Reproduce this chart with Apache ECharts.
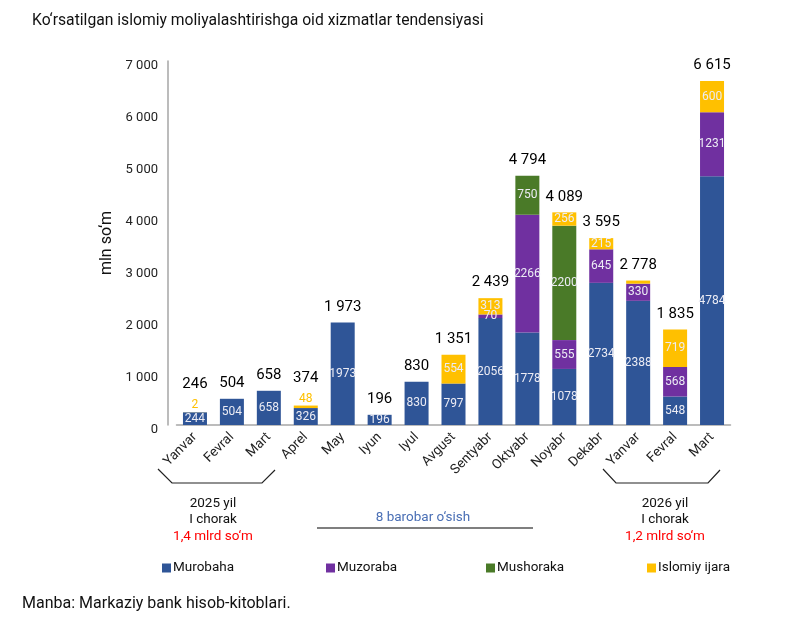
<!DOCTYPE html>
<html lang="uz">
<head>
<meta charset="UTF-8">
<title>Islomiy moliyalashtirish tendensiyasi</title>
<script src="https://cdn.jsdelivr.net/npm/echarts@6/dist/echarts.min.js"></script>
<style>
  html, body { margin: 0; padding: 0; background: #fff; }
  #chart { width: 803px; height: 624px; }
</style>
</head>
<body>
<div id="chart"></div>
<script>
// oylar (2025 yil yanvar - 2026 yil mart)
var months = ['Yanvar', 'Fevral', 'Mart', 'Aprel', 'May', 'Iyun', 'Iyul', 'Avgust', 'Sentyabr', 'Oktyabr', 'Noyabr', 'Dekabr', 'Yanvar', 'Fevral', 'Mart'];
var murobaha  = [244, 504, 658, 326, 1973, 196, 830, 797, 2056, 1778, 1078, 2734, 2388, 548, 4784];
var muzoraba  = [0, 0, 0, 0, 0, 0, 0, 0, 70, 2266, 555, 645, 330, 568, 1231];
var mushoraka = [0, 0, 0, 0, 0, 0, 0, 0, 0, 750, 2200, 0, 0, 0, 0];
var ijara     = [2, 0, 0, 48, 0, 0, 0, 554, 313, 0, 256, 215, 60, 719, 600];
var totals    = [246, 504, 658, 374, 1973, 196, 830, 1351, 2439, 4794, 4089, 3595, 2778, 1835, 6615];
var yTicks    = [0, 1000, 2000, 3000, 4000, 5000, 6000, 7000];
var seriesNames = ['Murobaha', 'Muzoraba', 'Mushoraka', 'Islomiy ijara'];

// kichik ijara yorliqlari: ustida ko'rsatiladi yoki yashiriladi
var ijaraAbove = [0, 3];
var ijaraHidden = [12];

var FONT = 'Roboto, "Noto Sans", sans-serif';
var colors = ['#2F5597', '#7030A0', '#4A7A28', '#FFC000'];
var legendLeft = [157, 321, 481, 642];

function fmt(v) {
  return String(v).replace(/\B(?=(\d{3})+(?!\d))/g, ' ');
}

var inLabel = {
  show: true,
  position: 'inside',
  color: '#ececf4',
  fontSize: 12,
  fontFamily: FONT,
  formatter: function (p) { return p.value ? String(p.value) : ''; }
};

function segment(name, values, color) {
  return {
    name: name,
    type: 'bar',
    stack: 'jami',
    barWidth: 24,
    itemStyle: { color: color },
    label: inLabel,
    data: values
  };
}

var ijaraData = ijara.map(function (v, i) {
  if (ijaraAbove.indexOf(i) >= 0) {
    return { value: v, label: { show: true, position: 'top', distance: 1, color: '#FFC000', fontSize: 12 } };
  }
  if (ijaraHidden.indexOf(i) >= 0) {
    return { value: v, label: { show: false } };
  }
  return v;
});

var totalData = totals.map(function (v, i) {
  return { value: v, label: { distance: ijaraAbove.indexOf(i) >= 0 ? 20 : 8 } };
});

var legends = seriesNames.map(function (n, i) {
  return {
    data: [n],
    left: legendLeft[i], top: 556,
    icon: 'rect', itemWidth: 9, itemHeight: 9,
    textStyle: { fontSize: 13.5, color: '#111', padding: [0, 0, 0, -3] }
  };
});

var chart = echarts.init(document.getElementById('chart'));
var option = {
  animation: false,
  textStyle: { fontFamily: FONT },
  title: {
    text: 'Ko‘rsatilgan islomiy moliyalashtirishga oid xizmatlar tendensiyasi',
    left: 27, top: 8,
    textStyle: { fontSize: 15.7, fontWeight: 'normal', color: '#111', fontFamily: FONT }
  },
  grid: { left: 176.5, right: 72.5, top: 61, bottom: 199 },
  legend: legends,
  xAxis: {
    type: 'category',
    data: months,
    offset: 4,
    axisLine: { lineStyle: { color: '#a6a6a6', width: 1.5 } },
    axisTick: { show: false },
    axisLabel: { rotate: 45, interval: 0, fontSize: 13.5, color: '#222', margin: 6 }
  },
  yAxis: {
    type: 'value',
    min: 0, max: 7000, interval: 1000,
    offset: 8.5,
    name: 'mln so‘m',
    nameLocation: 'middle',
    nameGap: 50,
    nameTextStyle: { fontSize: 16, color: '#111' },
    splitLine: { show: false },
    axisLine: { show: true, lineStyle: { color: '#a6a6a6', width: 1.5 } },
    axisTick: { show: false },
    axisLabel: {
      fontSize: 13, color: '#222', margin: 10,
      verticalAlign: 'top', lineHeight: 9,
      formatter: function (v) { return yTicks.indexOf(v) >= 0 ? fmt(v) : ''; }
    }
  },
  series: [
    segment(seriesNames[0], murobaha, colors[0]),
    segment(seriesNames[1], muzoraba, colors[1]),
    segment(seriesNames[2], mushoraka, colors[2]),
    segment(seriesNames[3], ijaraData, colors[3]),
    {
      name: 'Jami',
      type: 'line',
      data: totalData,
      symbol: 'circle',
      symbolSize: 0,
      lineStyle: { width: 0, opacity: 0 },
      itemStyle: { color: 'transparent' },
      label: {
        show: true, position: 'top', color: '#000', fontSize: 15,
        formatter: function (p) { return fmt(p.value); }
      },
      z: 5
    }
  ],
  graphic: [
    // chorak qavslari
    { type: 'polyline', shape: { points: [[158, 469], [172, 483], [262, 483], [275, 470]] }, style: { stroke: '#222', lineWidth: 1.2, fill: null } },
    { type: 'polyline', shape: { points: [[603, 469], [616, 483], [708, 483], [720, 470]] }, style: { stroke: '#222', lineWidth: 1.2, fill: null } },
    { type: 'line', shape: { x1: 317, y1: 528, x2: 533, y2: 528 }, style: { stroke: '#555', lineWidth: 1.5 } },
    { type: 'text', x: 213, y: 504, style: { text: '2025 yil', fontSize: 13.5, fill: '#111', align: 'center', verticalAlign: 'middle', fontFamily: FONT } },
    { type: 'text', x: 213, y: 520, style: { text: 'I chorak', fontSize: 13.5, fill: '#111', align: 'center', verticalAlign: 'middle', fontFamily: FONT } },
    { type: 'text', x: 213, y: 537, style: { text: '1,4 mlrd so‘m', fontSize: 13.5, fill: '#ff0000', align: 'center', verticalAlign: 'middle', fontFamily: FONT } },
    { type: 'text', x: 665, y: 504, style: { text: '2026 yil', fontSize: 13.5, fill: '#111', align: 'center', verticalAlign: 'middle', fontFamily: FONT } },
    { type: 'text', x: 665, y: 520, style: { text: 'I chorak', fontSize: 13.5, fill: '#111', align: 'center', verticalAlign: 'middle', fontFamily: FONT } },
    { type: 'text', x: 665, y: 537, style: { text: '1,2 mlrd so‘m', fontSize: 13.5, fill: '#ff0000', align: 'center', verticalAlign: 'middle', fontFamily: FONT } },
    { type: 'text', x: 423, y: 518, style: { text: '8 barobar o‘sish', fontSize: 13.5, fill: '#4a6fb5', align: 'center', verticalAlign: 'middle', fontFamily: FONT } },
    { type: 'text', x: 22, y: 604, style: { text: 'Manba: Markaziy bank hisob-kitoblari.', fontSize: 16, fill: '#111', verticalAlign: 'middle', fontFamily: FONT } }
  ]
};
chart.setOption(option);
</script>
</body>
</html>
